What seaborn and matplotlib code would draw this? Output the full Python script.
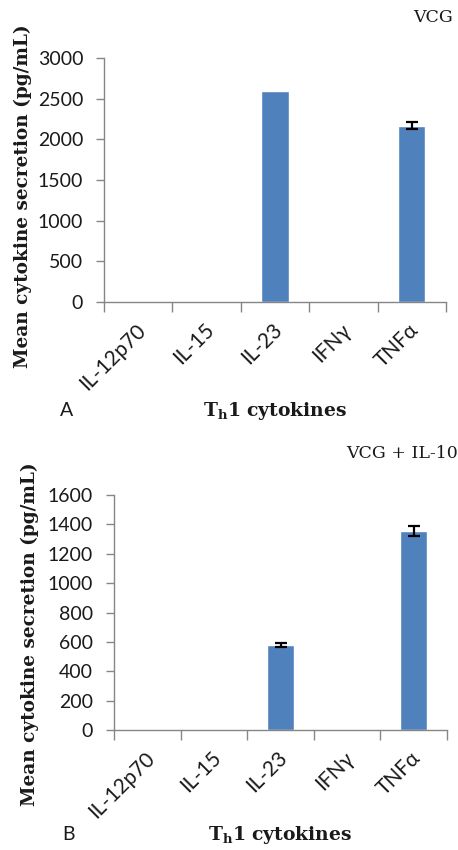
import numpy as np
import pandas as pd
import matplotlib
matplotlib.use("Agg")
import matplotlib.pyplot as plt
import matplotlib.transforms as mtransforms
import seaborn as sns

categories = ["IL-12p70", "IL-15", "IL-23", "IFNγ", "TNFα"]
vcg_values = [0, 0, 2600, 0, 2170]
vcg_errors = [np.nan, np.nan, np.nan, np.nan, 40]
vcg_il10_values = [8, 0, 580, 0, 1355]
vcg_il10_errors = [np.nan, np.nan, 15, np.nan, 35]
yticks_a = [0, 500, 1000, 1500, 2000, 2500, 3000]
yticks_b = [0, 200, 400, 600, 800, 1000, 1200, 1400, 1600]

sns.set_theme(style="white")
plt.rcParams["font.family"] = ["Lato", "DejaVu Sans"]
plt.rcParams["mathtext.fontset"] = "custom"
plt.rcParams["mathtext.bf"] = "DejaVu Serif:bold"
plt.rcParams["mathtext.rm"] = "DejaVu Serif:bold"

BAR = "#4F81BD"
AX = "#868686"
TXT = "#1a1a1a"
W, H = 458, 850

fig = plt.figure(figsize=(W / 100, H / 100), dpi=100)


def panel(rect, values, errors, yticks, ylabel_xy, xlabel_xy, title, title_xy):
    ax = fig.add_axes(rect)
    df = pd.DataFrame({"cat": categories, "val": values})
    sns.barplot(data=df, x="cat", y="val", color=BAR, width=0.4, saturation=1,
                ax=ax, errorbar=None)
    pos = np.arange(len(categories))
    ax.errorbar(pos, values, yerr=errors, fmt="none", ecolor="black",
                elinewidth=1.6, capsize=4, capthick=1.6)
    ax.set_xlim(-0.5, len(categories) - 0.5)
    ax.set_ylim(yticks[0], yticks[-1])
    ax.set_yticks(yticks)
    ax.set_yticklabels([str(t) for t in yticks], fontsize=14, color=TXT)
    ax.set_xticks(pos)
    ax.set_xticks(np.arange(-0.5, len(categories)), minor=True)
    ax.tick_params(axis="x", which="major", length=0, pad=18)
    ax.tick_params(axis="x", which="minor", length=7, color=AX, width=1, direction="out", bottom=True)
    ax.tick_params(axis="y", which="major", length=6, color=AX, width=1, direction="out", left=True, pad=9)
    ax.set_xticklabels(categories, rotation=45, ha="right", va="center",
                       rotation_mode="anchor", fontsize=15, color=TXT)
    offset = mtransforms.ScaledTranslation(4 / 100, 0, fig.dpi_scale_trans)
    for lbl in ax.get_xticklabels():
        lbl.set_transform(lbl.get_transform() + offset)
    for s in ["top", "right"]:
        ax.spines[s].set_visible(False)
    for s in ["left", "bottom"]:
        ax.spines[s].set_color(AX)
        ax.spines[s].set_linewidth(1)
    ax.set_xlabel("")
    ax.set_ylabel("")
    ax.grid(False)
    fig.text(ylabel_xy[0] / W, 1 - ylabel_xy[1] / H, "Mean cytokine secretion (pg/mL)",
             rotation=90, ha="center", va="center", fontsize=13.3,
             fontweight="bold", family="DejaVu Serif", color=TXT)
    fig.text(xlabel_xy[0] / W, 1 - xlabel_xy[1] / H, r"$\mathbf{T_h1\ cytokines}$",
             ha="center", va="center", fontsize=13.5, color=TXT)
    fig.text(title_xy[0] / W, 1 - title_xy[1] / H, title, ha="right", va="center",
             fontsize=12.5, family="DejaVu Serif", color=TXT)
    return ax


panel([104 / W, 1 - 302 / H, (446 - 104) / W, (302 - 58) / H], vcg_values, vcg_errors,
      yticks_a, (23, 196), (275, 411), "VCG", (453, 17))
fig.text(67 / W, 1 - 410 / H, "A", ha="center", va="center", fontsize=14, color=TXT)
panel([114 / W, 1 - 730 / H, (447 - 114) / W, (730 - 495) / H], vcg_il10_values, vcg_il10_errors,
      yticks_b, (30, 634), (280, 835), "VCG + IL-10", (458, 454))
fig.text(68 / W, 1 - 835 / H, "B", ha="center", va="center", fontsize=14, color=TXT)

fig.savefig("out.png", dpi=100, facecolor="white")
